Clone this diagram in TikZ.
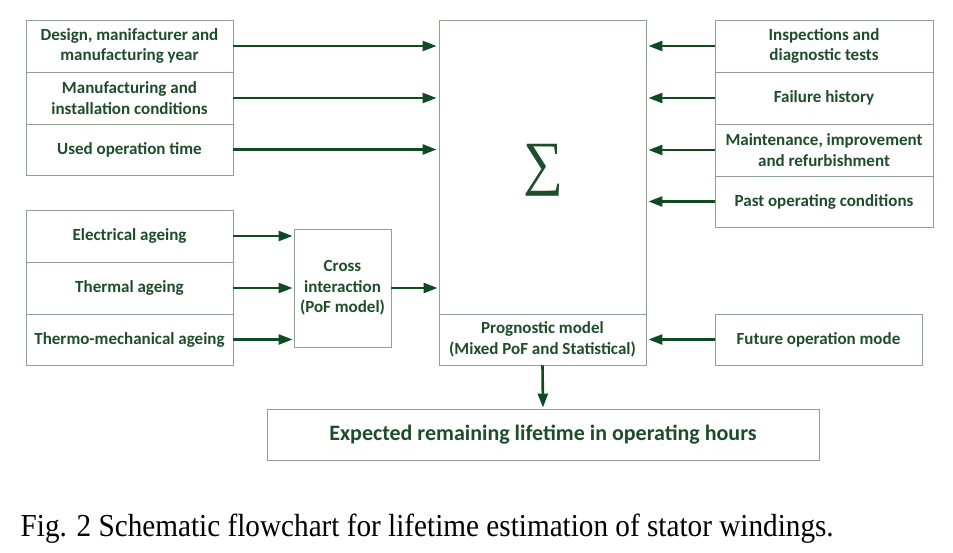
\documentclass[tikz,border=0pt]{standalone}
\usepackage{fontspec}
\usepackage{graphicx}
\setmainfont{Carlito}
\newfontfamily\capfont{Liberation Serif}
\usetikzlibrary{arrows.meta}
\definecolor{txtgreen}{HTML}{1E4D2B}
\definecolor{arrgreen}{HTML}{0F4A22}
\definecolor{boxline}{HTML}{8FA28F}
\tikzset{
  box/.style={draw=boxline, line width=0.9pt, inner sep=0pt, align=center,
    text=txtgreen, font=\bfseries\fontsize{17}{20.5}\selectfont},
  arr/.style={draw=arrgreen, line width=2.6pt,
    -{Triangle[length=14pt,width=10pt]}},
}
\begin{document}
\begin{tikzpicture}[x=1pt,y=-1pt]
\useasboundingbox[fill=white] (0,0) rectangle (953,553);
% left top group
\node[box, minimum width=207pt, minimum height=52pt] (d1) at (129.5,46) {Design, manifacturer and\\manufacturing year};
\node[box, minimum width=207pt, minimum height=52pt] (d2) at (129.5,98) {Manufacturing and\\installation conditions};
\node[box, minimum width=207pt, minimum height=51pt] (d3) at (129.5,149.5) {Used operation time};
% left bottom group
\node[box, minimum width=207pt, minimum height=52pt] (e1) at (129.5,236) {Electrical ageing};
\node[box, minimum width=207pt, minimum height=52pt] (e2) at (129.5,288) {Thermal ageing};
\node[box, minimum width=207pt, minimum height=51pt] (e3) at (129.5,339.5) {Thermo-mechanical ageing};
\node[box, minimum width=97pt, minimum height=118pt] (cross) at (342.5,288) {Cross\\interaction\\(PoF model)};
% centre
\node[box, minimum width=207pt, minimum height=294pt] (sig) at (542.5,167) {};
\node[text=txtgreen, inner sep=0pt] (sum) at (543,170) {\resizebox*{40pt}{52pt}{\capfont ∑}};
\node[box, minimum width=207pt, minimum height=51pt] (prog) at (542.5,339.5) {Prognostic model\\(Mixed PoF and Statistical)};
% right group
\node[box, minimum width=218pt, minimum height=52pt] (r1) at (824,46) {Inspections and\\diagnostic tests};
\node[box, minimum width=218pt, minimum height=52pt] (r2) at (824,98) {Failure history};
\node[box, minimum width=218pt, minimum height=52pt] (r3) at (824,150) {Maintenance, improvement\\and refurbishment};
\node[box, minimum width=218pt, minimum height=51pt] (r4) at (824,201.5) {Past operating conditions};
\node[box, minimum width=207pt, minimum height=51pt] (fut) at (818.5,339.5) {Future operation mode};
% result
\node[box, minimum width=552pt, minimum height=51pt, font=\bfseries\fontsize{22}{26}\selectfont] (res) at (543,434.5) {Expected remaining lifetime in operating hours};
% arrows
\draw[arr, shorten >=2pt] (d1.east) -- (d1.east -| sig.west);
\draw[arr, shorten >=2pt] (d2.east) -- (d2.east -| sig.west);
\draw[arr, shorten >=2pt] (d3.east) -- (d3.east -| sig.west);
\draw[arr, shorten >=1pt] (e1.east) -- (e1.east -| cross.west);
\draw[arr, shorten >=1pt] (e2.east) -- (e2.east -| cross.west);
\draw[arr, shorten >=1pt] (e3.east) -- (e3.east -| cross.west);
\draw[arr, shorten >=1pt] (cross.east) -- (cross.east -| sig.west);
\draw[arr, shorten >=2pt] (r1.west) -- (r1.west -| sig.east);
\draw[arr, shorten >=2pt] (r2.west) -- (r2.west -| sig.east);
\draw[arr, shorten >=2pt] (r3.west) -- (r3.west -| sig.east);
\draw[arr, shorten >=2pt] (r4.west) -- (r4.west -| sig.east);
\draw[arr, shorten >=2pt] (fut.west) -- (prog.east);
\draw[arr, shorten >=1pt] (prog.south) -- (res.north);
% caption
\node[anchor=base west, inner sep=0pt, xscale=0.913, font=\capfont\fontsize{32}{36}\selectfont] (cap) at (20.5,536.5) {Fig. 2 Schematic flowchart for lifetime estimation of stator windings.};
\end{tikzpicture}
\end{document}
